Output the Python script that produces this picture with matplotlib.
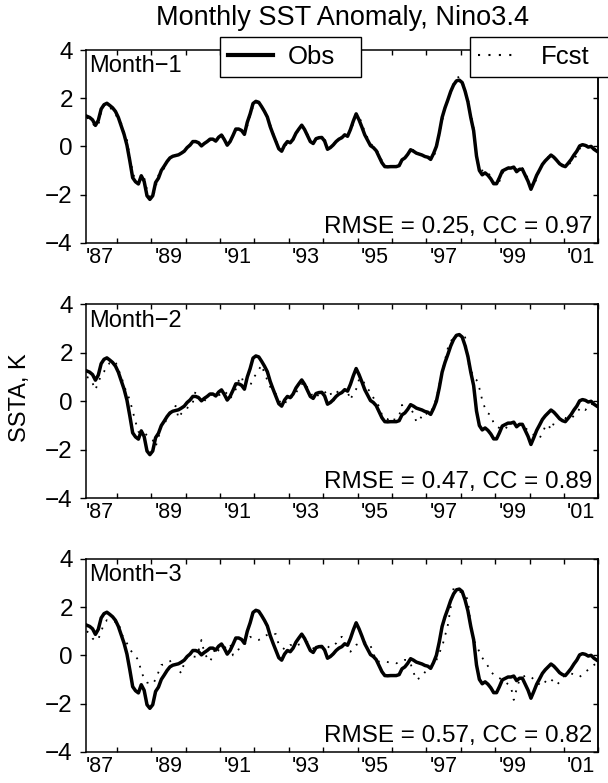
import numpy as np
import pandas as pd
import matplotlib
matplotlib.use("Agg")
import matplotlib.pyplot as plt
from matplotlib.lines import Line2D

plt.rcParams['font.family'] = ['Liberation Sans', 'DejaVu Sans']

# Monthly Nino3.4 SST anomaly (K), Feb 1987 - Dec 2001
months = pd.date_range("1987-02-01", "2001-12-01", freq="MS")

obs = [
    1.25, 1.2, 1.1, 0.87, 1.08, 1.55, 1.73, 1.79, 1.7, 1.6, 1.45,                 # 1987
    1.2, 0.85, 0.5, 0.05, -0.6, -1.3, -1.47, -1.56, -1.22, -1.45, -2.05, -2.2,    # 1988
    -2.05, -1.5, -1.32, -1.0, -0.82, -0.63, -0.48, -0.41, -0.38, -0.35, -0.28, -0.2,  # 1989
    -0.05, 0.05, 0.2, 0.2, 0.15, 0.02, 0.12, 0.2, 0.3, 0.3, 0.22, 0.38,          # 1990
    0.47, 0.28, 0.05, 0.2, 0.45, 0.72, 0.72, 0.66, 0.5, 1.0, 1.35, 1.78,         # 1991
    1.87, 1.83, 1.65, 1.45, 1.22, 0.82, 0.5, 0.2, -0.1, -0.2, 0.05, 0.2,         # 1992
    0.15, 0.3, 0.55, 0.72, 0.88, 0.7, 0.45, 0.2, 0.12, 0.32, 0.36, 0.37,         # 1993
    0.22, -0.12, -0.05, 0.06, 0.2, 0.3, 0.36, 0.48, 0.42, 0.7, 1.05, 1.35,       # 1994
    1.1, 0.8, 0.48, 0.25, 0.03, -0.05, -0.18, -0.43, -0.68, -0.84, -0.85, -0.84, # 1995
    -0.84, -0.84, -0.8, -0.56, -0.48, -0.33, -0.14, -0.2, -0.28, -0.32, -0.36, -0.42,  # 1996
    -0.45, -0.54, -0.3, 0.0, 0.55, 1.2, 1.6, 1.93, 2.28, 2.55, 2.72, 2.75,       # 1997
    2.65, 2.3, 1.85, 1.2, 0.65, -0.4, -1.0, -1.18, -1.1, -1.2, -1.35, -1.55,     # 1998
    -1.55, -1.3, -1.02, -0.96, -0.9, -0.9, -0.86, -1.05, -0.95, -0.95, -1.2, -1.45,  # 1999
    -1.78, -1.5, -1.2, -0.98, -0.75, -0.6, -0.48, -0.36, -0.45, -0.58, -0.72, -0.8,  # 2000
    -0.84, -0.7, -0.55, -0.36, -0.2, 0.02, 0.07, 0.04, -0.03, 0.0, -0.12, -0.2,  # 2001
]

fcst_m1 = [
    1.2, 1.1, 0.95, 0.82, 0.85, 1.45, 1.7, 1.75, 1.62, 1.5, 1.35,
    1.1, 0.95, 0.6, 0.28, -0.45, -1.05, -1.45, -1.5, -1.45, -1.3, -1.8, -2.1,
    -2.15, -1.7, -1.2, -1.1, -0.9, -0.6, -0.5, -0.45, -0.35, -0.32, -0.3, -0.18,
    -0.1, 0.1, 0.05, 0.22, 0.18, 0.05, 0.1, 0.25, 0.25, 0.32, 0.25, 0.3,
    0.5, 0.35, 0.1, 0.15, 0.45, 0.65, 0.75, 0.62, 0.55, 0.85, 1.3, 1.65,
    1.85, 1.75, 1.7, 1.45, 1.2, 0.9, 0.55, 0.25, 0.0, -0.2, -0.05, 0.15,
    0.2, 0.25, 0.5, 0.7, 0.85, 0.75, 0.5, 0.28, 0.1, 0.25, 0.38, 0.35,
    0.3, 0.0, -0.12, 0.05, 0.25, 0.3, 0.4, 0.42, 0.48, 0.65, 0.95, 1.3,
    1.25, 0.95, 0.6, 0.35, 0.12, 0.0, -0.1, -0.35, -0.6, -0.8, -0.82, -0.72,
    -0.85, -0.8, -0.82, -0.6, -0.5, -0.35, -0.2, -0.15, -0.25, -0.3, -0.35, -0.38,
    -0.4, -0.5, -0.45, -0.1, 0.45, 1.05, 1.55, 1.9, 2.25, 2.6, 2.85, 2.88,
    2.7, 2.4, 1.95, 1.35, 0.75, -0.5, -0.95, -1.0, -1.05, -1.05, -1.3, -1.5,
    -1.6, -1.45, -1.15, -0.9, -0.85, -0.95, -0.9, -0.95, -1.05, -0.9, -1.1, -1.35,
    -1.6, -1.65, -1.3, -1.0, -0.75, -0.55, -0.45, -0.4, -0.42, -0.55, -0.65, -0.75,
    -0.85, -0.78, -0.65, -0.55, -0.35, -0.1, 0.05, 0.08, 0.0, -0.05, -0.05, -0.2,
]

fcst_m2 = [
    1.0, 0.95, 0.75, 0.47, 0.8, 1.05, 1.22, 1.45, 1.58, 1.6, 1.64,
    1.3, 1.05, 0.62, 0.35, 0.05, -0.4, -0.85, -1.25, -1.35, -1.3, -1.4, -1.5,
    -1.6, -1.87, -1.5, -0.95, -0.95, -0.7, -0.55, -0.35, -0.19, -0.7, -0.5, -0.36,
    -0.3, -0.08, -0.05, 0.44, 0.15, 0.1, 0.0, 0.18, 0.25, 0.3, 0.35, 0.25,
    0.3, 0.42, 0.3, 0.1, 0.3, 0.5, 0.85, 1.04, 0.58, 0.7, 0.63, 0.95,
    1.1, 1.3, 1.5, 1.15, 0.88, 0.6, 0.4, 0.3, 0.05, -0.12, -0.15, 0.12,
    0.2, 0.15, 0.35, 0.55, 0.7, 0.8, 0.55, 0.4, 0.15, 0.15, 0.3, 0.32,
    0.4, 0.25, 0.36, 0.0, 0.3, 0.5, 0.35, 0.45, 0.4, 0.05, 0.35, 0.5,
    0.9, 0.95, 0.7, 0.5, 0.4, 0.15, -0.05, -0.2, -0.56, -0.6, -0.75, -0.63,
    -0.75, -0.75, -0.6, -0.15, -0.45, -0.35, -0.3, -0.5, -0.84, -0.84, -0.56, -0.45,
    -0.56, -0.5, -0.15, 0.1, 0.67, 1.2, 1.7, 2.19, 2.45, 2.67, 2.7, 2.75,
    2.65, 2.67, 1.63, 1.3, 1.0, 0.88, 0.54, 0.05, -0.3, -0.5, -0.56, -0.91,
    -1.04, -1.1, -1.18, -1.15, -1.0, -0.9, -0.85, -1.04, -0.95, -1.0, -1.1, -1.2,
    -1.3, -1.39, -1.45, -1.53, -1.3, -1.04, -0.95, -1.18, -0.9, -0.63, -0.6, -0.65,
    -0.7, -0.63, -0.7, -0.6, -0.49, -0.3, -0.25, -0.36, -0.2, -0.1, -0.15, -0.25,
]

fcst_m3 = [
    1.0, 0.9, 0.7, 0.6, 0.66, 1.0, 1.3, 1.46, 1.42, 1.38, 1.4,
    1.4, 0.91, 0.7, 0.5, 0.25, 0.1, -0.05, -0.19, -0.68, -0.95, -1.13, -1.16,
    -1.19, -1.0, -0.7, -0.4, -0.38, -0.3, -0.25, -0.17, -0.4, -0.6, -0.75, -0.3,
    -0.06, -0.1, -0.05, -0.06, 0.2, 0.64, 0.1, -0.1, -0.26, 0.0, 0.36, 0.2,
    0.15, 0.3, 0.4, 0.5, 0.0, 0.15, 0.25, 0.3, 0.45, 0.6, 0.77, 0.7,
    0.65, 0.64, 0.7, 0.8, 0.85, 0.91, 0.9, 0.88, 0.43, 0.35, 0.25, 0.3,
    0.43, 0.4, 0.35, 0.45, 0.5, 0.57, 0.55, 0.45, 0.3, 0.2, 0.3, 0.36,
    0.3, 0.3, 0.43, 0.4, 0.5, 0.7, 0.77, 0.5, 0.3, 0.15, 0.3, 0.43,
    0.5, 0.5, 0.52, 0.57, 0.4, 0.1, -0.26, -0.26, -0.26, -0.26, -0.28, -0.3,
    -0.3, -0.33, -0.3, -0.25, -0.19, -0.2, -0.35, -0.7, -1.02, -0.95, -0.89, -0.7,
    -0.6, -0.5, -0.4, -0.2, 0.1, 0.36, 0.8, 1.26, 2.0, 2.78, 2.75, 2.65,
    2.6, 2.5, 2.3, 1.19, 0.64, 0.4, 0.15, -0.1, -0.26, -0.45, -0.68, -0.8,
    -0.9, -0.95, -1.0, -1.1, -1.2, -1.3, -1.85, -1.4, -1.02, -0.9, -0.85, -0.89,
    -0.89, -1.0, -1.16, -1.2, -1.27, -1.1, -0.95, -1.0, -1.1, -1.23, -1.1, -0.89,
    -0.85, -0.8, -0.75, -0.8, -0.85, -0.89, -0.8, -0.68, -0.6, -0.5, -0.4, -0.33,
]

panel_names = ["Month\u22121", "Month\u22122", "Month\u22123"]
rmse = [0.25, 0.47, 0.57]
cc = [0.97, 0.89, 0.82]
year_labels = ["'87", "'89", "'91", "'93", "'95", "'97", "'99", "'01"]
label_years = [1987, 1989, 1991, 1993, 1995, 1997, 1999, 2001]

# decimal-year time coordinate at mid-month
t = months.year + (months.month - 0.5) / 12.0

fig = plt.figure(figsize=(6.08, 7.83), dpi=100)

axes_rects = [
    [0.1414, 0.6900, 0.8426, 0.2461],
    [0.1414, 0.3636, 0.8426, 0.2478],
    [0.1414, 0.0400, 0.8426, 0.2461],
]

dot_style = (0, (1, 4))
forecasts = [fcst_m1, fcst_m2, fcst_m3]

for i, rect in enumerate(axes_rects):
    ax = fig.add_axes(rect)
    ax.plot(t, forecasts[i], color='black', lw=1.3, linestyle=dot_style)
    ax.plot(t, obs, color='black', lw=2.5, solid_joinstyle='round')
    ax.set_xlim(1987.1, 2002.0)
    ax.set_ylim(-4, 4)

    ax.set_xticks(np.arange(1988, 2003))
    ax.set_xticks([y + 0.5 for y in label_years], year_labels, minor=True)
    ax.tick_params(axis='x', which='major', direction='in', top=True,
                   length=3.5, width=1.0, labelbottom=False)
    ax.tick_params(axis='x', which='minor', length=0, labelsize=15.5, pad=3)

    ax.set_yticks([-4, -2, 0, 2, 4])
    ax.tick_params(axis='y', which='major', direction='out', length=4.5,
                   width=1.0, labelsize=17.5, pad=5)
    sec = ax.secondary_yaxis('right')
    sec.set_yticks([-4, -2, 0, 2, 4])
    sec.tick_params(direction='in', length=3.5, width=1.0, labelright=False)

    for sp in list(ax.spines.values()) + [sec.spines['right']]:
        sp.set_linewidth(1.1)

    ax.text(0.006, 0.972, panel_names[i], transform=ax.transAxes,
            ha='left', va='top', fontsize=17)
    ax.text(0.988, 0.052, f"RMSE = {rmse[i]:.2f}, CC = {cc[i]:.2f}",
            transform=ax.transAxes, ha='right', va='baseline', fontsize=17.5)

fig.text(342 / 608, 1 - 18 / 783, "Monthly SST Anomaly, Nino3.4",
         ha='center', va='center', fontsize=19.5)
fig.text(20 / 608, 1 - 398 / 783, "SSTA, K", rotation=90,
         ha='center', va='center', fontsize=17)

obs_handle = Line2D([], [], color='black', lw=3.0)
fcst_handle = Line2D([], [], color='black', lw=1.5, linestyle=dot_style)

yc = 1 - 57 / 783
leg1 = fig.legend([obs_handle], ["Obs"], loc='center left',
                  bbox_to_anchor=(220 / 608, yc, 141 / 608, 0), mode='expand',
                  fontsize=18.5, frameon=True, fancybox=False, edgecolor='black',
                  framealpha=1, handlelength=1.75, handletextpad=0.6,
                  borderpad=0.3, borderaxespad=0)
leg1.get_frame().set_linewidth(1.0)
leg2 = fig.legend([fcst_handle], ["Fcst"], loc='center left',
                  bbox_to_anchor=(470 / 608, yc, 200 / 608, 0), mode='expand',
                  fontsize=18.5, frameon=True, fancybox=False, edgecolor='black',
                  framealpha=1, handlelength=1.45, handletextpad=1.0,
                  borderpad=0.3, borderaxespad=0)
leg2.get_frame().set_linewidth(1.0)

fig.savefig("out.png", dpi=100)
